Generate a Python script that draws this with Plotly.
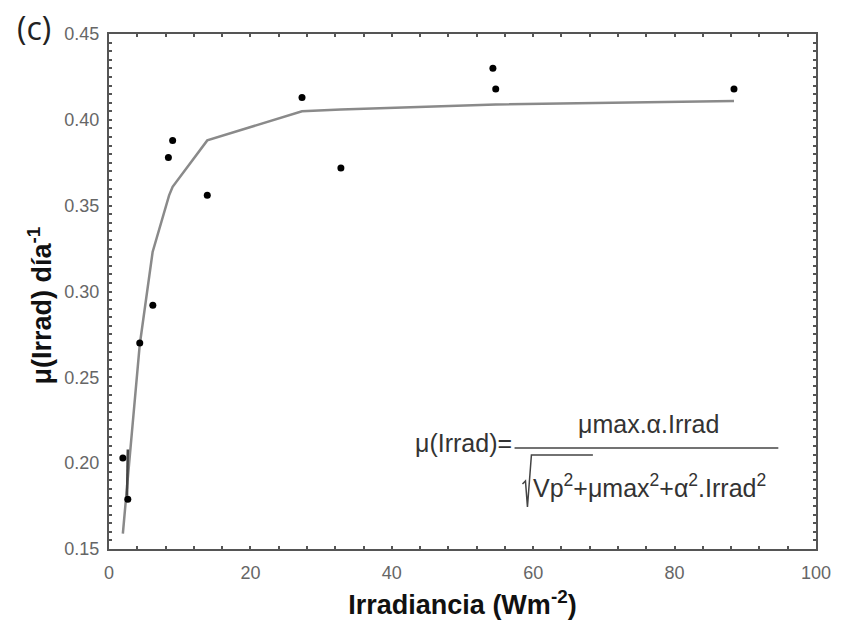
import plotly.graph_objects as go

# Observed data
irrad_obs = [1.96, 2.66, 4.35, 6.2, 8.4, 9.0, 13.9, 27.3, 32.8, 54.3, 54.7, 88.4]
mu_obs = [0.203, 0.179, 0.270, 0.292, 0.378, 0.388, 0.356, 0.413, 0.372, 0.430, 0.418, 0.418]

# Fitted model curve
irrad_fit = [1.96, 2.95, 4.35, 6.17, 8.5, 9.0, 13.9, 27.3, 32.8, 54.7, 88.4]
mu_fit = [0.159, 0.206, 0.269, 0.323, 0.356, 0.361, 0.388, 0.405, 0.406, 0.409, 0.411]

# small residual segment near the origin
irrad_res = [2.66, 2.55]
mu_res = [0.208, 0.181]

x_ticks = [0, 20, 40, 60, 80, 100]
y_ticks = [0.15, 0.20, 0.25, 0.30, 0.35, 0.40, 0.45]

W, H = 843, 627
L, R, T, B = 109, 21, 34, 78

fig = go.Figure()
fig.add_trace(go.Scatter(x=irrad_fit, y=mu_fit, mode="lines",
                         line=dict(color="#8a8a8a", width=2.5), showlegend=False))
fig.add_trace(go.Scatter(x=irrad_res, y=mu_res, mode="lines",
                         line=dict(color="#444444", width=2.5), showlegend=False))
fig.add_trace(go.Scatter(x=irrad_obs, y=mu_obs, mode="markers",
                         marker=dict(color="black", size=7), showlegend=False))

SANS = "Liberation Sans, Arial, sans-serif"
tickfont = dict(family=SANS, size=18, color="#666666")
fig.update_xaxes(range=[0, 100], tickvals=x_ticks, ticktext=[str(v) for v in x_ticks],
                 ticks="inside", ticklen=3, tickcolor="#555", tickwidth=1.5,
                 minor=dict(dtick=4, ticks="inside", ticklen=3, tickcolor="#555", tickwidth=1.5),
                 showline=True, linecolor="#555", linewidth=2, mirror="allticks",
                 showgrid=False, zeroline=False, tickfont=tickfont, ticklabelstandoff=6,
                 title=dict(text="<b>Irradiancia (Wm<sup>-2</sup>)</b>", standoff=14,
                            font=dict(family=SANS, size=27, color="#111")))
fig.update_yaxes(range=[0.15, 0.45], tickvals=y_ticks, ticktext=["%.2f" % v for v in y_ticks],
                 ticks="inside", ticklen=3, tickcolor="#555", tickwidth=1.5,
                 minor=dict(dtick=0.005, ticks="inside", ticklen=3, tickcolor="#555", tickwidth=1.5),
                 showline=True, linecolor="#555", linewidth=2, mirror="allticks",
                 showgrid=False, zeroline=False, tickfont=tickfont, ticklabelstandoff=4)

def px(xp):
    return (xp - L) / (W - L - R)

def py(yp):
    return (H - B - yp) / (H - T - B)

ffont = dict(family=SANS, size=25, color="#333")
annotations = [
    dict(x=px(39), y=py(306), xref="paper", yref="paper",
         text="<b>μ(Irrad) día<sup>-1</sup></b>", textangle=-90,
         xanchor="center", yanchor="middle", showarrow=False,
         font=dict(family=SANS, size=27, color="#111")),
    dict(x=px(517), y=py(443), xref="paper", yref="paper", text="μ(Irrad)=",
         xanchor="right", yanchor="middle", showarrow=False, font=ffont),
    dict(x=px(653), y=py(424), xref="paper", yref="paper", text="μmax.α.Irrad",
         xanchor="center", yanchor="middle", showarrow=False, font=ffont),
    dict(x=px(535), y=py(486), xref="paper", yref="paper",
         text="Vp<sup>2</sup>+μmax<sup>2</sup>+α<sup>2</sup>.Irrad<sup>2</sup>",
         xanchor="left", yanchor="middle", showarrow=False, font=ffont),
    dict(x=px(33), y=py(27), xref="paper", yref="paper", text="(c)",
         xanchor="center", yanchor="middle", showarrow=False,
         font=dict(family="Open Sans, Noto Sans, sans-serif", size=32, color="#222")),
]

shapes = [
    dict(type="line", xref="paper", yref="paper", x0=px(518), x1=px(784), y0=py(448), y1=py(448),
         line=dict(color="#444", width=1.5)),
    dict(type="path", xref="paper", yref="paper",
         path="M %f,%f L %f,%f L %f,%f L %f,%f L %f,%f" % (
             px(526), py(484), px(529), py(481), px(531), py(507), px(535), py(455), px(597), py(455)),
         line=dict(color="#444", width=1.5)),
]

fig.update_layout(width=W, height=H, margin=dict(l=L, r=R, t=T, b=B),
                  plot_bgcolor="white", paper_bgcolor="white",
                  annotations=annotations, shapes=shapes)

fig.write_html("out.html")
